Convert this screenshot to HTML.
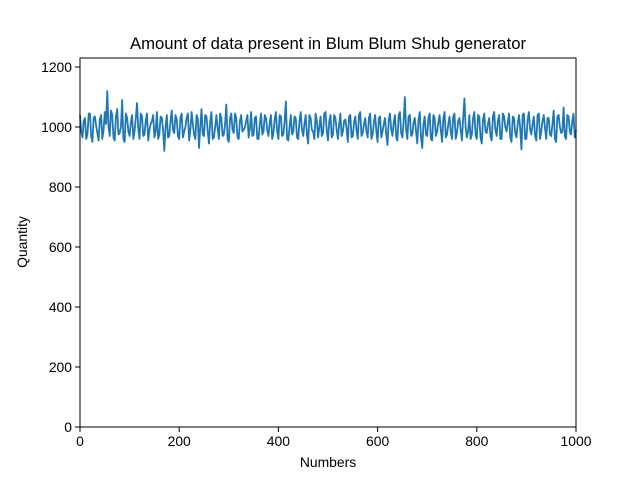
<!DOCTYPE html>
<html><head><meta charset="utf-8"><style>
body{margin:0;background:#fff}
svg{display:block;font-family:"Liberation Sans","DejaVu Sans",sans-serif}
</style></head><body>
<svg id="chart" width="640" height="480">
<rect width="640" height="480" fill="#fff"/>
<text x="328" y="49" text-anchor="middle" font-size="16.7">Amount of data present in Blum Blum Shub generator</text>
<g id="plot"></g>
<text x="328" y="467" text-anchor="middle" font-size="13.9">Numbers</text>
<text transform="translate(27,242) rotate(-90)" text-anchor="middle" font-size="13.9">Quantity</text>
</svg>
<script>
const xStep = 5;
const quantities = [
1040,965,1030,975,1045,950,1035,980,1025,960,1050,1120,970,1040,955,1060,980,1090,950,1030,
970,1040,985,1080,960,1035,975,1045,990,1020,965,1050,975,1030,920,1040,970,1055,980,1025,
960,1045,985,1030,955,1050,975,1040,930,1060,970,1035,945,1050,965,1040,960,1030,975,1075,
950,1045,980,1030,960,1040,990,1020,965,1050,975,1035,960,1045,985,1030,970,1040,980,1050,
960,1035,975,1085,955,1040,985,1030,960,1050,970,1040,945,1030,985,1045,965,1035,980,1050,
955,1040,975,1030,960,1045,985,1025,950,1040,970,1035,960,1050,980,1030,965,1045,975,1040,
950,1035,985,1030,940,1045,970,1040,955,1050,965,1100,960,1040,975,1030,945,1050,930,1035,
970,1045,955,1030,985,1040,950,1050,975,1035,960,1045,980,1030,955,1095,965,1040,975,1050,
960,1035,945,1045,980,1030,955,1050,970,1040,960,1035,985,1045,950,1030,965,1040,925,1045,
960,1050,975,1035,955,1045,985,1040,960,1030,970,1055,950,1040,980,1065,960,1035,975,1045,990];
const quantitiesMid = [
985,1020,960,1045,970,1030,1005,955,1040,990,1010,1000,1055,965,1035,975,1000,960,1045,985,
1015,960,1030,995,1045,970,1020,955,1010,1040,985,960,1035,990,1000,965,1020,990,1040,970,
1030,965,1000,1045,990,1010,960,1030,1000,975,1040,985,1020,960,1000,995,1045,970,1010,960,
1030,990,1045,965,1020,985,1000,1040,995,970,1030,960,1010,975,1040,990,1015,960,1025,985,
1040,970,1020,960,1000,975,1035,965,1020,990,1010,975,1040,990,960,1020,1000,970,1045,985,
1020,965,1040,990,1010,970,1020,995,1035,965,1015,990,1040,970,1010,985,1030,960,1015,985,
1030,965,1010,975,1025,990,1015,965,1040,980,1020,990,1035,970,1015,985,1025,965,1010,975,
1030,960,1040,970,1015,990,1030,965,1010,985,1035,960,1020,990,1030,1000,985,960,1030,975,
1040,965,1025,985,1010,970,1035,990,1020,960,1045,1000,1015,965,1035,980,1010,995,1040,960,
1025,990,1010,970,1040,960,1020,995,1030,975,1010,960,1035,1000,985,970,1040,985,1020,965];
const xTicks = [0,200,400,600,800,1000];
const yTicks = [0,200,400,600,800,1000,1200];
const xMin=0,xMax=1000,yMin=0,yMax=1230;
const L=80,R=576,T=58,B=427;
const sx=v=>L+(v-xMin)/(xMax-xMin)*(R-L);
const sy=v=>B-(v-yMin)/(yMax-yMin)*(B-T);
const NS="http://www.w3.org/2000/svg";
const g=document.getElementById('plot');
function mk(tag,attrs){const e=document.createElementNS(NS,tag);for(const k in attrs)e.setAttribute(k,attrs[k]);g.appendChild(e);return e;}
const series=[];
quantities.forEach((q,i)=>{
  series.push([i*xStep,q]);
  if(i<quantitiesMid.length) series.push([i*xStep+xStep/2,quantitiesMid[i]]);
});
const pts=series.map(p=>sx(p[0]).toFixed(2)+','+sy(p[1]).toFixed(2)).join(' ');
const line=mk('polyline',{points:pts,fill:'none',stroke:'#1f77b4','stroke-width':1.8,'stroke-linejoin':'round'});


xTicks.forEach(v=>{
  const t=mk('line',{x1:sx(v),x2:sx(v),y1:B,y2:B+5,stroke:'#000','stroke-width':1});
  
  
  const l=mk('text',{x:sx(v),y:B+19,'text-anchor':'middle','font-size':13.9});
  l.textContent=v;
  
  
});
yTicks.forEach(v=>{
  const t=mk('line',{x1:L-5,x2:L,y1:sy(v),y2:sy(v),stroke:'#000','stroke-width':1});
  
  
  const l=mk('text',{x:L-8,y:sy(v)+5,'text-anchor':'end','font-size':13.9});
  l.textContent=v;
  
  
});
const frame=mk('rect',{x:L,y:T,width:R-L,height:B-T,fill:'none',stroke:'#000','stroke-width':1});


</script>
</body></html>
